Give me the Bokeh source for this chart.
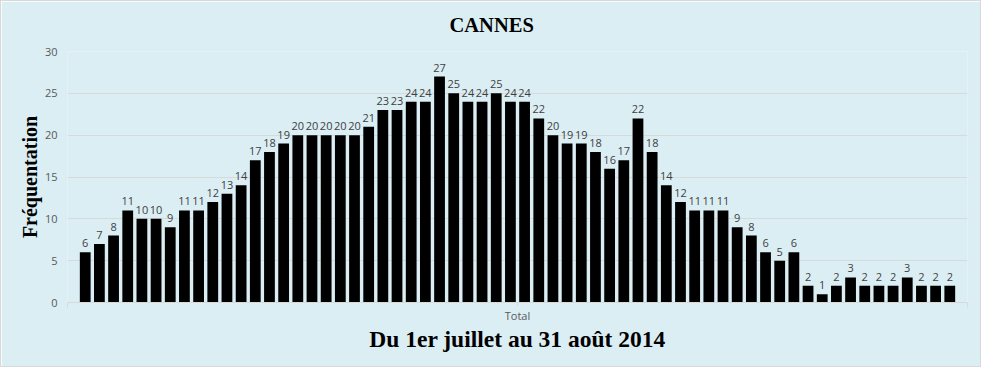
from bokeh.plotting import figure
from bokeh.models import ColumnDataSource, FixedTicker, Range1d
from bokeh.embed import file_html
from bokeh.resources import INLINE
from bokeh.core.properties import value

# Daily attendance, 1 July - 31 August 2014 (62 days)
values = [6, 7, 8, 11, 10, 10, 9, 11, 11, 12,
          13, 14, 17, 18, 19, 20, 20, 20, 20, 20,
          21, 23, 23, 24, 24, 27, 25, 24, 24, 25,
          24, 24, 22, 20, 19, 19, 18, 16, 17, 22,
          18, 14, 12, 11, 11, 11, 9, 8, 6, 5,
          6, 2, 1, 2, 3, 2, 2, 2, 3, 2,
          2, 2]
category_label = "Total"
y_ticks = [0, 5, 10, 15, 20, 25, 30]
title_text = "CANNES"
y_title = "Fréquentation"
x_title = "Du 1er juillet au 31 août 2014"

n = len(values)
idx = list(range(n))
src = ColumnDataSource(dict(x=idx, y=values, label=[str(v) for v in values]))

BG = "#DBEEF4"
GRID = "#D9D9D9"
TICKTXT = "#595959"

center = (n - 1) / 2
half = n / 2 + 0.75
x0, x1 = center - half, center + half

p = figure(width=981, height=367, output_backend="svg", toolbar_location=None,
           x_range=Range1d(x0, x1), y_range=Range1d(0, 30),
           min_border_left=66, min_border_right=15, min_border_top=50,
           min_border_bottom=66, background_fill_color=BG,
           border_fill_color=BG, outline_line_color=None)
p.styles = {"border": "1px solid #D9D9D9"}

p.vbar(x="x", top="y", width=0.76, source=src, fill_color="black",
       line_color=None)
p.text(x="x", y="y", text="label", source=src, text_align="center",
       text_baseline="alphabetic", y_offset=-9,
       text_font=value("Open Sans"), text_font_size="11px",
       text_color="#404040")

# title
p.title.text = title_text
p.title.text_font = "Liberation Serif"
p.title.text_font_style = "bold"
p.title.text_font_size = "20.5px"
p.title.text_color = "black"
p.title.align = "left"
p.title.offset = 382
p.title.vertical_align = "bottom"
try:
    p.title.padding = dict(top=0, right=0, bottom=16, left=0)
    p.title.standoff = 0
except Exception:
    p.title.standoff = 24

# y axis
p.yaxis.ticker = FixedTicker(ticks=y_ticks)
p.yaxis.axis_line_color = None
p.yaxis.major_tick_line_color = None
p.yaxis.minor_tick_line_color = None
p.yaxis.major_tick_out = 0
p.yaxis.major_tick_in = 0
p.yaxis.minor_tick_out = 0
p.yaxis.minor_tick_in = 0
p.yaxis.major_label_standoff = 10
p.yaxis.major_label_text_font = "Open Sans"
p.yaxis.major_label_text_font_size = "11px"
p.yaxis.major_label_text_color = TICKTXT
p.yaxis.axis_label = y_title
p.yaxis.axis_label_text_font = "Liberation Serif"
p.yaxis.axis_label_text_font_style = "bold"
p.yaxis.axis_label_text_font_size = "20px"
p.yaxis.axis_label_text_color = "black"
p.yaxis.axis_label_standoff = 1

# x axis
p.xaxis.ticker = FixedTicker(ticks=[center], minor_ticks=[x0, x1])
p.xaxis.major_label_overrides = {center: category_label}
p.xaxis.axis_line_color = GRID
p.xaxis.major_tick_line_color = GRID
p.xaxis.minor_tick_line_color = GRID
p.xaxis.major_tick_in = 0
p.xaxis.major_tick_out = 3
p.xaxis.minor_tick_in = 0
p.xaxis.minor_tick_out = 5
p.xaxis.major_label_standoff = 0
p.xaxis.major_label_text_font = "Open Sans"
p.xaxis.major_label_text_font_size = "11px"
p.xaxis.major_label_text_color = TICKTXT
p.xaxis.axis_label = x_title
p.xaxis.axis_label_text_font = "Liberation Serif"
p.xaxis.axis_label_text_font_style = "bold"
p.xaxis.axis_label_text_font_size = "23.5px"
p.xaxis.axis_label_text_color = "black"
p.xaxis.axis_label_standoff = 0

p.xgrid.grid_line_color = None
p.ygrid.ticker = FixedTicker(ticks=y_ticks[1:])
p.ygrid.grid_line_color = GRID

open("out.html", "w").write(file_html(p, INLINE))
